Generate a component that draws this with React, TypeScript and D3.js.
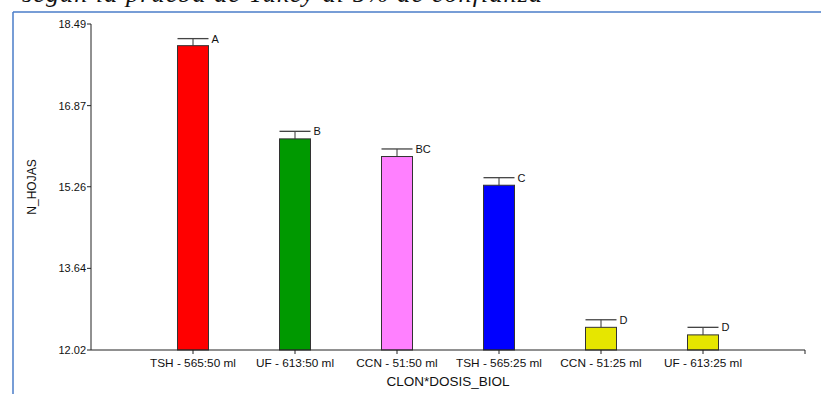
import React from "react";
import * as d3 from "d3";

const categories = [
  "TSH - 565:50 ml",
  "UF - 613:50 ml",
  "CCN - 51:50 ml",
  "TSH - 565:25 ml",
  "CCN - 51:25 ml",
  "UF - 613:25 ml",
];
const means = [18.06, 16.21, 15.86, 15.29, 12.47, 12.32];
const errors = [0.14, 0.15, 0.15, 0.15, 0.15, 0.15];
const letters = ["A", "B", "BC", "C", "D", "D"];
const colors = ["#FF0000", "#009900", "#FF80FF", "#0000FF", "#E6E600", "#E6E600"];
const yTicks = [12.02, 13.64, 15.26, 16.87, 18.49];
const yTitle = "N_HOJAS";
const xTitle = "CLON*DOSIS_BIOL";
const caption = "según la prueba de Tukey al 5% de confianza";

const W = 821;
const H = 394;
const left = 91;
const right = 805;
const top = 24;
const bottom = 350;

export default function App() {
  const x = d3.scalePoint<string>().domain(categories).range([left, right]).padding(1);
  const y = d3.scaleLinear().domain([yTicks[0], yTicks[yTicks.length - 1]]).range([bottom, top]);
  const bw = 31;
  const font = "Arial, 'Liberation Sans', sans-serif";
  const axisColor = "#222";

  return (
    <svg
      width={W}
      height={H}
      style={{ position: "absolute", left: 0, top: 0, background: "#fff" }}
      fontFamily={font}
    >
      <rect x={0} y={0} width={W} height={H} fill="#fff" />
      {/* cropped caption from document */}
      <text
        x={22}
        y={1.5}
        fontFamily="'Liberation Serif', 'DejaVu Serif', serif"
        fontStyle="italic"
        fontSize={26}
        fill="#111"
        textLength={520}
      >
        {caption}
      </text>
      {/* frame */}
      <line x1={13} y1={12} x2={W} y2={12} stroke="#4a7cc9" strokeWidth={1.5} />
      <line x1={13} y1={12} x2={13} y2={H} stroke="#4a7cc9" strokeWidth={1.5} />

      {/* bars */}
      {categories.map((c, i) => {
        const cx = x(c)!;
        const yt = y(means[i]);
        const ye = y(means[i] + errors[i]);
        return (
          <g key={c}>
            <rect
              x={cx - bw / 2}
              y={yt}
              width={bw}
              height={bottom - yt}
              fill={colors[i]}
              stroke="#333"
              strokeWidth={1}
            />
            <line x1={cx} y1={yt} x2={cx} y2={ye} stroke="#333" strokeWidth={1} />
            <line x1={cx - bw / 2} y1={ye} x2={cx + bw / 2} y2={ye} stroke="#444" strokeWidth={1.3} />
            <text x={cx + bw / 2 + 3} y={ye + 4} fontSize={11} fill="#111">
              {letters[i]}
            </text>
          </g>
        );
      })}

      {/* y axis */}
      <line x1={left} y1={top} x2={left} y2={bottom} stroke={axisColor} strokeWidth={1} />
      {yTicks.map((t) => (
        <g key={t}>
          <line x1={left - 4} y1={y(t)} x2={left} y2={y(t)} stroke={axisColor} />
          <text x={left - 5} y={y(t) + 4} fontSize={11} textAnchor="end" fill="#111">
            {t.toFixed(2)}
          </text>
        </g>
      ))}
      <text
        transform={`translate(36,${(top + bottom) / 2}) rotate(-90)`}
        textAnchor="middle"
        fontSize={12}
        fill="#111"
      >
        {yTitle}
      </text>

      {/* x axis */}
      <line x1={left} y1={bottom} x2={right} y2={bottom} stroke={axisColor} strokeWidth={1} />
      <line x1={right} y1={bottom} x2={right} y2={bottom + 4} stroke={axisColor} />
      {categories.map((c) => (
        <g key={c}>
          <line x1={x(c)!} y1={bottom} x2={x(c)!} y2={bottom + 4} stroke={axisColor} />
          <text x={x(c)!} y={367} fontSize={11.8} textAnchor="middle" fill="#111">
            {c}
          </text>
        </g>
      ))}
      <text x={(left + right) / 2} y={386} fontSize={13.5} textAnchor="middle" fill="#111">
        {xTitle}
      </text>
    </svg>
  );
}
